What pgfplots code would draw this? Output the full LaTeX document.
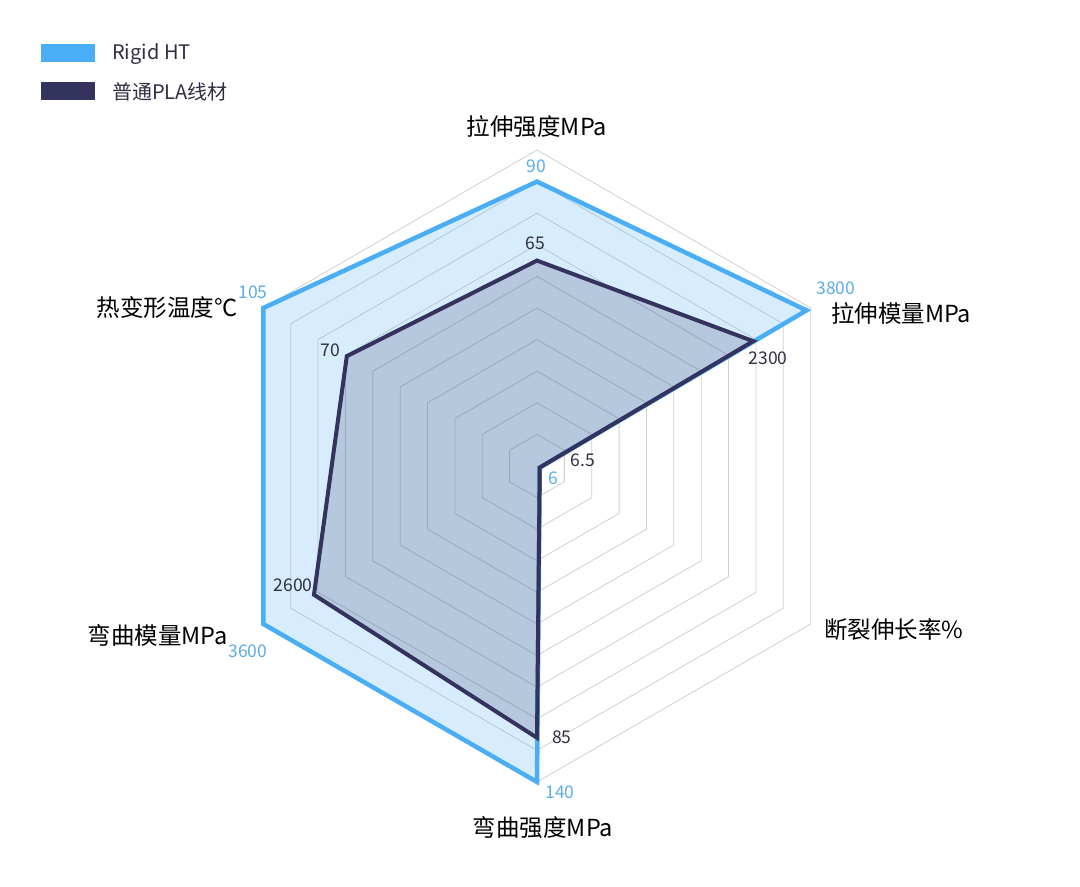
\documentclass[border=0pt]{standalone}
\usepackage{pgfplots}
\pgfplotsset{compat=1.18}
\usepackage{fontspec}
\setmainfont{Noto Sans CJK SC}
\definecolor{rigid}{HTML}{4AAEF7}
\definecolor{pla}{HTML}{33335E}
\definecolor{bluetext}{HTML}{5AAEE6}
\definecolor{darktext}{HTML}{2E2E45}
\definecolor{gridc}{HTML}{CFCFCF}
\newcommand{\lab}{\fontsize{23.5bp}{27bp}\selectfont}
\newcommand{\num}{\fontsize{17.5bp}{20bp}\selectfont}
\newcommand{\leg}{\fontsize{20bp}{23bp}\selectfont}
\begin{document}
\begin{tikzpicture}
\begin{axis}[
  x=316bp, y=316bp,
  xmin=-1.6994, xmax=1.7184, ymin=-1.3323, ymax=1.4747,
  hide axis, clip=false,
  every axis plot/.append style={line join=miter},
]
% grid rings
\addplot[gridc, line width=0.8bp, data cs=polar] coordinates {(90,0.1) (30,0.1) (-30,0.1) (-90,0.1) (210,0.1) (150,0.1)} --cycle;
\addplot[gridc, line width=0.8bp, data cs=polar] coordinates {(90,0.2) (30,0.2) (-30,0.2) (-90,0.2) (210,0.2) (150,0.2)} --cycle;
\addplot[gridc, line width=0.8bp, data cs=polar] coordinates {(90,0.3) (30,0.3) (-30,0.3) (-90,0.3) (210,0.3) (150,0.3)} --cycle;
\addplot[gridc, line width=0.8bp, data cs=polar] coordinates {(90,0.4) (30,0.4) (-30,0.4) (-90,0.4) (210,0.4) (150,0.4)} --cycle;
\addplot[gridc, line width=0.8bp, data cs=polar] coordinates {(90,0.5) (30,0.5) (-30,0.5) (-90,0.5) (210,0.5) (150,0.5)} --cycle;
\addplot[gridc, line width=0.8bp, data cs=polar] coordinates {(90,0.6) (30,0.6) (-30,0.6) (-90,0.6) (210,0.6) (150,0.6)} --cycle;
\addplot[gridc, line width=0.8bp, data cs=polar] coordinates {(90,0.7) (30,0.7) (-30,0.7) (-90,0.7) (210,0.7) (150,0.7)} --cycle;
\addplot[gridc, line width=0.8bp, data cs=polar] coordinates {(90,0.8) (30,0.8) (-30,0.8) (-90,0.8) (210,0.8) (150,0.8)} --cycle;
\addplot[gridc, line width=0.8bp, data cs=polar] coordinates {(90,0.9) (30,0.9) (-30,0.9) (-90,0.9) (210,0.9) (150,0.9)} --cycle;
\addplot[gridc, line width=0.8bp, data cs=polar] coordinates {(90,1.0) (30,1.0) (-30,1.0) (-90,1.0) (210,1.0) (150,1.0)} --cycle;
% Rigid HT
\addplot[draw=rigid, line width=4.5bp, fill=rigid, fill opacity=0.22, data cs=polar] coordinates {(90,0.90) (30,0.985) (-30,0.01) (-90,1.0) (210,1.0) (150,1.0)} --cycle;
% PLA
\addplot[draw=pla, line width=4bp, fill=pla, fill opacity=0.2, data cs=polar] coordinates {(90,0.65) (30,0.79) (-30,0.01) (-90,0.86) (210,0.815) (150,0.695)} --cycle;
% axis labels
\node[font=\lab, text=black] at (axis cs:0,1.0728) {拉伸强度MPa};
\node[font=\lab, text=black] at (axis cs:0.019,-1.1456) {弯曲强度MPa};
\node[font=\lab, text=black, anchor=west, inner sep=0] at (axis cs:0.930,0.484) {拉伸模量MPa};
\node[font=\lab, text=black, anchor=west, inner sep=0] at (axis cs:0.908,-0.519) {断裂伸长率\%};
\node[font=\lab, text=black, anchor=east, inner sep=0] at (axis cs:-0.978,-0.535) {弯曲模量MPa};
\node[font=\lab, text=black, anchor=east, inner sep=0] at (axis cs:-0.946,0.503) {热变形温度°C};
% value labels
\node[font=\num, text=bluetext] at (axis cs:-0.003,0.949) {90};
\node[font=\num, text=darktext] at (axis cs:-0.006,0.706) {65};
\node[font=\num, text=bluetext] at (axis cs:0.946,0.563) {3800};
\node[font=\num, text=darktext] at (axis cs:0.731,0.342) {2300};
\node[font=\num, text=darktext] at (axis cs:0.146,0.019) {6.5};
\node[font=\num, text=bluetext] at (axis cs:0.051,-0.038) {6};
\node[font=\num, text=darktext] at (axis cs:0.079,-0.858) {85};
\node[font=\num, text=bluetext] at (axis cs:0.073,-1.032) {140};
\node[font=\num, text=bluetext] at (axis cs:-0.915,-0.585) {3600};
\node[font=\num, text=darktext] at (axis cs:-0.772,-0.377) {2600};
\node[font=\num, text=bluetext] at (axis cs:-0.899,0.551) {105};
\node[font=\num, text=darktext] at (axis cs:-0.655,0.367) {70};
% legend
\node[fill=rigid, minimum width=54bp, minimum height=18bp, inner sep=0, anchor=west] at (axis cs:-1.570,1.307) {};
\node[fill=pla, minimum width=54bp, minimum height=18bp, inner sep=0, anchor=west] at (axis cs:-1.570,1.187) {};
\node[font=\leg, text=darktext, anchor=west, inner sep=0] at (axis cs:-1.345,1.304) {Rigid HT};
\node[font=\leg, text=darktext, anchor=west, inner sep=0] at (axis cs:-1.345,1.184) {普通PLA线材};
\end{axis}
\pgfresetboundingbox
\useasboundingbox (current axis.south west) rectangle (current axis.north east);
\end{tikzpicture}
\end{document}
